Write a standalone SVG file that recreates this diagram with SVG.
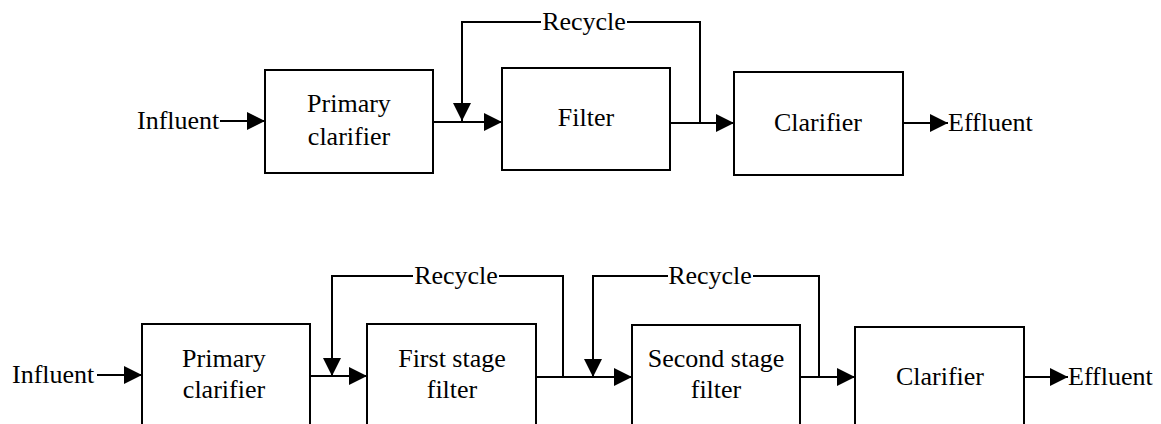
<svg xmlns="http://www.w3.org/2000/svg" width="1161" height="424" viewBox="0 0 1161 424" font-family="'Liberation Serif', 'DejaVu Serif', serif" font-size="26">
<style>
.box{fill:#fff;stroke:#000;stroke-width:2}
.ln{fill:none;stroke:#000;stroke-width:2}
.arr{marker-end:url(#ah)}
.c{text-anchor:middle}
</style>
<defs>
<marker id="ah" markerUnits="userSpaceOnUse" markerWidth="19" markerHeight="19" refX="18" refY="9" orient="auto" viewBox="0 0 19 19">
<path d="M0,0 L18,9 L0,18 z" fill="#000"/>
</marker>
</defs>
<rect width="1161" height="424" fill="#fff"/>
<g id="connectors">
<path class="ln arr" d="M220,121 H265"/>
<path class="ln arr" d="M433,122 H502"/>
<path class="ln" d="M700,123 V22 H627"/>
<path class="ln arr" d="M541,22 H462 V121"/>
<path class="ln arr" d="M670,123 H734"/>
<path class="ln arr" d="M903,123 H948"/>
<path class="ln arr" d="M97,375 H142"/>
<path class="ln arr" d="M310,376 H367"/>
<path class="ln" d="M563,377 V276 H499"/>
<path class="ln arr" d="M413,276 H332 V376"/>
<path class="ln arr" d="M536,377 H632"/>
<path class="ln" d="M819,377 V276 H753"/>
<path class="ln arr" d="M668,276 H593 V377"/>
<path class="ln arr" d="M800,377 H855"/>
<path class="ln arr" d="M1024,377 H1068"/>
<text x="584" y="30" class="c">Recycle</text>
<text x="456" y="284" class="c">Recycle</text>
<text x="710" y="284" class="c">Recycle</text>
<text x="137" y="129">Influent</text>
<text x="948" y="131">Effluent</text>
<text x="12" y="383">Influent</text>
<text x="1068" y="385">Effluent</text>
</g>
<g id="primary1"><rect class="box" x="265" y="70" width="168" height="103"/><text x="349" y="112" class="c">Primary</text><text x="349" y="145" class="c">clarifier</text></g>
<g id="filter1"><rect class="box" x="502" y="68" width="168" height="102"/><text x="586" y="126" class="c">Filter</text></g>
<g id="clarifier1"><rect class="box" x="734" y="72" width="169" height="103"/><text x="818" y="131" class="c">Clarifier</text></g>
<g id="primary2"><rect class="box" x="142" y="324" width="168" height="110"/><text x="224" y="367" class="c">Primary</text><text x="224" y="398" class="c">clarifier</text></g>
<g id="filter2a"><rect class="box" x="367" y="324" width="169" height="110"/><text x="452" y="367" class="c">First stage</text><text x="452" y="398" class="c">filter</text></g>
<g id="filter2b"><rect class="box" x="632" y="325" width="168" height="110"/><text x="716" y="367" class="c">Second stage</text><text x="716" y="398" class="c">filter</text></g>
<g id="clarifier2"><rect class="box" x="855" y="327" width="169" height="110"/><text x="940" y="385" class="c">Clarifier</text></g>
</svg>
